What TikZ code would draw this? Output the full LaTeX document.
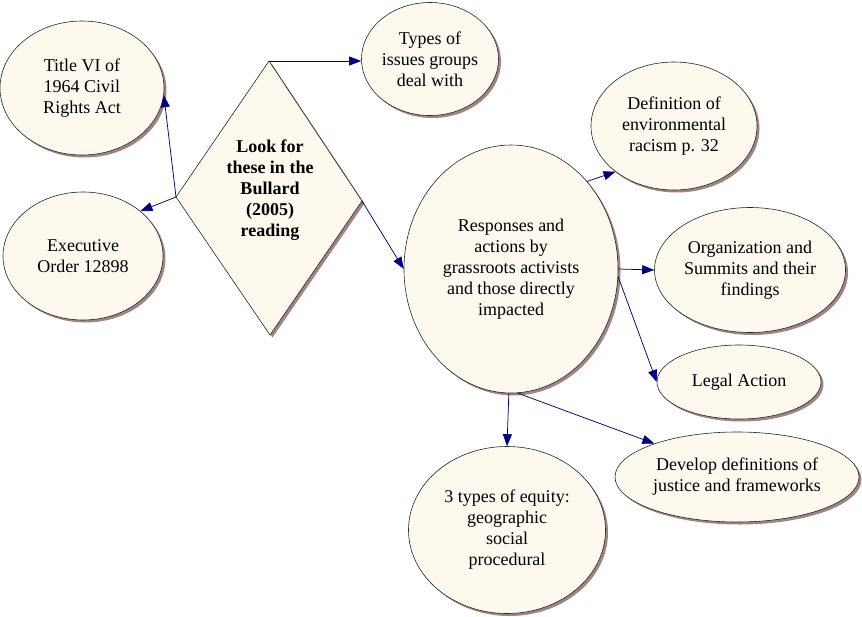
\documentclass[tikz,border=0pt]{standalone}
\usepackage{fontspec}
\setmainfont{Liberation Serif}
\usetikzlibrary{shapes.geometric,shadows,arrows.meta}
\definecolor{cream}{HTML}{FDF9EE}
\definecolor{shadowc}{HTML}{A08484}
\definecolor{navyc}{HTML}{000080}
\tikzset{
  bub/.style={ellipse, draw=black!85, fill=cream, line width=0.6pt, inner sep=0pt,
    align=center, font=\fontsize{18}{21}\selectfont,
    drop shadow={shadow xshift=2.5pt, shadow yshift=-2.5pt, fill=shadowc, opacity=1}},
  conn/.style={draw=navyc, line width=0.75pt, -{Triangle[length=12pt,width=9pt]}},
  dtext/.style={align=center, font=\fontsize{18}{21}\selectfont\bfseries, inner sep=0pt}
}
\begin{document}
\begin{tikzpicture}[x=1pt,y=-1pt]
\useasboundingbox (0,0) rectangle (862,616);
% diamond
\coordinate (dT) at (269,61);
\coordinate (dL) at (176,197);
\coordinate (dR) at (362,201);
\coordinate (dB) at (270,335);
\fill[shadowc] ([shift={(2.5,2.5)}]dT) -- ([shift={(2.5,2.5)}]dR) -- ([shift={(2.5,2.5)}]dB) -- ([shift={(2.5,2.5)}]dL) -- cycle;
\filldraw[draw=black!85, fill=cream, line width=0.6pt] (dT) -- (dR) -- (dB) -- (dL) -- cycle;
\node[dtext] (look) at (270,190) {Look for\\these in the\\Bullard\\(2005)\\reading};
% ellipses
\node[bub, minimum width=164pt, minimum height=134pt] (t1) at (82,88) {Title VI of\\1964 Civil\\Rights Act};
\node[bub, minimum width=160pt, minimum height=128pt] (eo) at (83,256) {Executive\\Order 12898};
\node[bub, minimum width=137pt, minimum height=113pt] (ty) at (430,59) {Types of\\issues groups\\deal with};
\node[bub, minimum width=214pt, minimum height=248pt] (r) at (511,269) {Responses and\\actions by\\grassroots activists\\and those directly\\impacted};
\node[bub, minimum width=166pt, minimum height=128pt] (def) at (674,126) {Definition of\\environmental\\racism p. 32};
\node[bub, minimum width=191pt, minimum height=125pt] (org) at (750,270) {Organization and\\Summits and their\\findings};
\node[bub, minimum width=164pt, minimum height=74pt] (leg) at (739,382) {Legal Action};
\node[bub, minimum width=244pt, minimum height=90pt] (dev) at (737,477) {Develop definitions of\\justice and frameworks};
\node[bub, minimum width=197pt, minimum height=167pt] (eq) at (507,530) {3 types of equity:\\geographic\\social\\procedural};
% connectors
\draw[conn] (dL) -- (t1.-5);
\draw[conn] (dL) -- (eo.38);
\draw[conn] (dT) -- (dT -| ty.west);
\draw[conn] (dR) -- (r.west);
\draw[conn] (r.49) -- (def.218);
\draw[conn] (r.east) -- (org.west);
\draw[conn] (r.-4) -- (leg.west);
\draw[conn] (r.-91) -- (eq.north);
\draw[conn] (r.-87) -- (dev.158);
\end{tikzpicture}
\end{document}
